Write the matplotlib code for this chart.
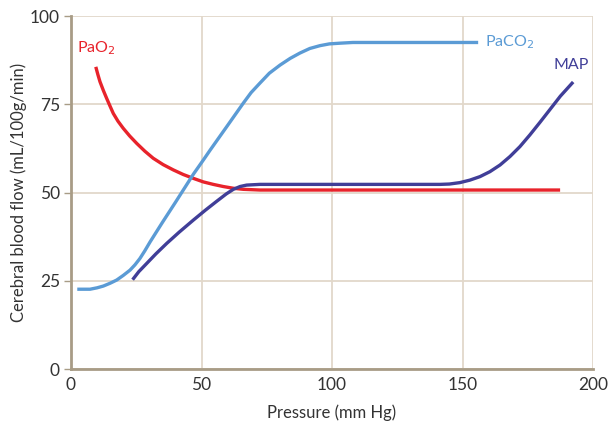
import matplotlib
matplotlib.use("Agg")
import matplotlib.pyplot as plt

# PaCO2 curve (light blue)
paco2_x = [2.4, 5.0, 7.3, 10.0, 12.4, 15.0, 17.5, 20.0, 22.6, 24.5, 26.4, 28.3, 30.3, 35.0, 40.0, 46.9, 50.7, 53.3,
           60.0, 66.0, 69.0, 72.4, 76.0, 80.1, 84.0, 87.7, 91.5, 95.4, 99.0, 103.1, 108.0, 118.4, 140.0, 156.0]
paco2_y = [22.6, 22.6, 22.6, 23.0, 23.5, 24.3, 25.2, 26.5, 28.0, 29.5, 31.3, 33.5, 36.0, 41.5, 47.2, 55.2, 59.2, 62.0,
           69.0, 75.3, 78.3, 81.0, 83.8, 86.1, 88.0, 89.5, 90.8, 91.6, 92.1, 92.3, 92.5, 92.5, 92.5, 92.5]

# MAP curve (dark blue)
map_x = [23.6, 26.0, 29.0, 32.5, 36.7, 41.5, 46.9, 51.5, 55.8, 59.5, 62.2, 64.8, 67.3, 72.4, 90.0, 120.0, 141.4,
         145.0, 149.0, 152.8, 156.7, 160.5, 164.4, 168.2, 172.0, 175.8, 179.7, 183.5, 187.5, 192.4]
map_y = [25.3, 27.6, 29.9, 32.6, 35.6, 38.8, 42.2, 45.0, 47.5, 49.6, 50.9, 51.7, 52.1, 52.3, 52.3, 52.3, 52.3,
         52.4, 52.8, 53.5, 54.5, 55.9, 57.8, 60.2, 63.0, 66.3, 69.9, 73.5, 77.3, 81.3]

# PaO2 curve (red)
pao2_x = [9.5, 10.3, 11.1, 12.4, 13.7, 15.0, 16.2, 18.0, 20.0, 22.5, 25.2, 28.3, 31.5, 35.3, 39.2, 43.0, 46.9,
          50.7, 54.5, 58.3, 62.2, 66.0, 72.4, 100.0, 150.0, 187.4]
pao2_y = [85.6, 83.4, 81.4, 78.9, 76.6, 74.4, 72.4, 70.2, 68.2, 66.0, 63.9, 61.7, 59.7, 57.9, 56.4, 55.1, 54.0,
          53.0, 52.3, 51.7, 51.2, 50.9, 50.7, 50.7, 50.7, 50.7]

x_ticks = [0, 50, 100, 150, 200]
y_ticks = [0, 25, 50, 75, 100]

plt.rcParams['font.family'] = ['Lato', 'DejaVu Sans']

fig = plt.figure(figsize=(6.08, 4.26), dpi=100)
ax = fig.add_axes([71/608, 57/426, 522/608, 353/426])

grid_c = '#e2d8ca'
spine_c = '#a89c86'
text_c = '#333333'
red = '#e8232b'
lblue = '#5b9bd5'
dblue = '#403e98'

ax.set_xlim(0, 200)
ax.set_ylim(0, 100)
ax.set_xticks(x_ticks)
ax.set_yticks(y_ticks)
ax.grid(True, color=grid_c, linewidth=1.3, zorder=0)
ax.set_axisbelow(True)
for s in ['top', 'right']:
    ax.spines[s].set_visible(False)
for s in ['left', 'bottom']:
    ax.spines[s].set_color(spine_c)
    ax.spines[s].set_linewidth(2.0)
ax.tick_params(axis='y', length=5, width=1.0, color=spine_c, labelsize=12.5, labelcolor=text_c, pad=3)
ax.tick_params(axis='x', length=0, labelsize=12.5, labelcolor=text_c, pad=6)

lw = 2.4
kw = dict(lw=lw, solid_capstyle='butt', solid_joinstyle='round')
ax.plot(pao2_x, pao2_y, color=red, zorder=3, **kw)
ax.plot(paco2_x, paco2_y, color=lblue, zorder=4, **kw)
ax.plot(map_x, map_y, color=dblue, zorder=5, **kw)

ax.text(9.5, 88.5, 'PaO$_2$', color=red, fontsize=11.5, ha='center', va='bottom')
ax.text(158.5, 92.5, 'PaCO$_2$', color=lblue, fontsize=11.5, ha='left', va='center')
ax.text(191.5, 84.0, 'MAP', color=dblue, fontsize=11.5, ha='center', va='bottom')

ax.set_xlabel('Pressure (mm Hg)', fontsize=12, color=text_c, labelpad=8)
ax.set_ylabel('Cerebral blood flow (mL/100g/min)', fontsize=12, color=text_c, labelpad=2)

fig.savefig('out.png', dpi=100)
